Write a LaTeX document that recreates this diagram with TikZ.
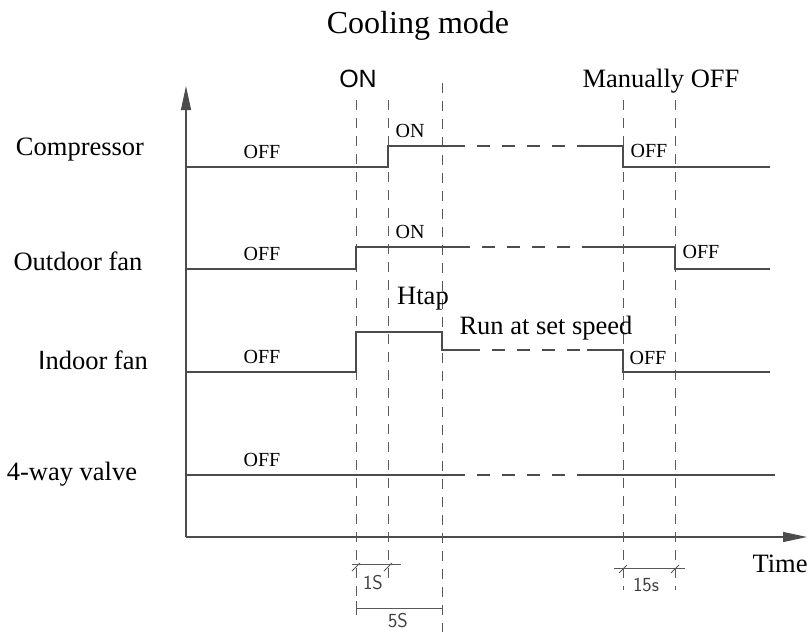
\documentclass[tikz,border=0pt]{standalone}
\usepackage{fontspec}
\setmainfont{Liberation Serif}
\newfontfamily\armfont{Liberation Sans}
\usepackage{tikz}
\usetikzlibrary{arrows.meta}
\tikzset{
  sig/.style    ={line width=1.2pt, draw=black!70},
  gapline/.style={sig, dash pattern=on 13pt off 12pt, dash phase=13pt},
  guide/.style  ={line width=1pt, draw=black!65, dash pattern=on 10pt off 8pt},
  axis/.style   ={line width=1.2pt, draw=black!70,
    -{Triangle[length=24pt,width=10pt]}},
  dim/.style    ={line width=1pt, draw=black!65},
  rowname/.style={font=\fontsize{26.5}{30}\selectfont, anchor=base},
  state/.style  ={font=\fontsize{20}{22}\selectfont, anchor=base},
  dimtxt/.style ={font=\sffamily\fontsize{20}{22}\selectfont,
    text=black!75, anchor=base, inner sep=1pt}
}

\begin{document}
\begin{tikzpicture}[x=1pt, y=-1pt]
    \useasboundingbox (0,0) rectangle (808,632);

    % ---------- title and axes ----------
    \node[font=\fontsize{32}{36}\selectfont, anchor=base] (title) at (418,33)
      {Cooling mode};
    \coordinate (orig) at (186,537);
    \coordinate (ytip) at (186,86);
    \coordinate (ttip) at (807,537);
    \draw[axis] (orig) -- (ytip);
    \draw[axis] (orig) -- (ttip);
    \node[rowname] (time) at (780,572) {Time};

    % ---------- event guides ----------
    \foreach \gx/\gtop/\gbot in {356/100/598, 388/100/583, 442/83/632,
                                 623/100/590, 675/100/590}
      \draw[guide] (\gx,\gtop) -- (\gx,\gbot);
    \node[font=\armfont\fontsize{25}{28}\selectfont, anchor=base] (on)
      at (358,87) {ON};
    \node[rowname] (manoff) at (661,87) {Manually OFF};

    % ---------- Compressor ----------
    \node[rowname] (comp) at (80,155) {Compressor};
    \draw[sig] (186,167) -- (388,167) -- (388,146) -- (465,146);
    \draw[gapline] (465,146) -- (582,146);
    \draw[sig] (582,146) -- (623,146) -- (623,167) -- (770,167);
    \node[state] (compoff) at (262,158) {OFF};
    \node[state] (compon)  at (410,137) {ON};
    \node[state] (compoff2) at (649,157) {OFF};

    % ---------- Outdoor fan ----------
    \node[rowname] (outfan) at (78,270) {Outdoor fan};
    \draw[sig] (186,269) -- (356,269) -- (356,247) -- (470,247);
    \draw[gapline] (470,247) -- (590,247);
    \draw[sig] (590,247) -- (675,247) -- (675,269) -- (770,269);
    \node[state] (outoff) at (262,260) {OFF};
    \node[state] (outon)  at (410,238) {ON};
    \node[state] (outoff2) at (701,258) {OFF};

    % ---------- Indoor fan ----------
    \node[rowname] (infan) at (93,369) {{\armfont I}ndoor fan};
    \draw[sig] (186,372) -- (356,372) -- (356,332) -- (442,332)
      -- (442,350) -- (480,350);
    \draw[gapline] (480,350) -- (587,350);
    \draw[sig] (587,350) -- (623,350) -- (623,372) -- (770,372);
    \node[state] (inoff) at (262,363) {OFF};
    \node[rowname] (htap) at (423,304) {Htap};
    \node[rowname] (setspd) at (546,334) {Run at set speed};
    \node[state] (inoff2) at (648,364) {OFF};

    % ---------- 4-way valve ----------
    \node[rowname] (valve) at (72,480) {4-way valve};
    \draw[sig] (186,475) -- (465,475);
    \draw[gapline] (465,475) -- (584,475);
    \draw[sig] (584,475) -- (775,475);
    \node[state] (valveoff) at (262,466) {OFF};

    % ---------- delays ----------
    \draw[dim] (352,564) -- (401,564);
    \draw[dim] (352,571) -- (360,563);
    \draw[dim] (384,571) -- (392,563);
    \node[dimtxt] (delay1) at (373,589) {1S};
    \draw[dim] (356,608) -- (442,608);
    \draw[dim] (356,601) -- (356,615);
    \node[dimtxt] (delay5) at (398,627) {5S};
    \draw[dim] (614,568) -- (685,568);
    \draw[dim] (619,573) -- (627,565);
    \draw[dim] (671,573) -- (679,565);
    \node[dimtxt] (delay15) at (646,591) {15s};

  \end{tikzpicture}
\end{document}
